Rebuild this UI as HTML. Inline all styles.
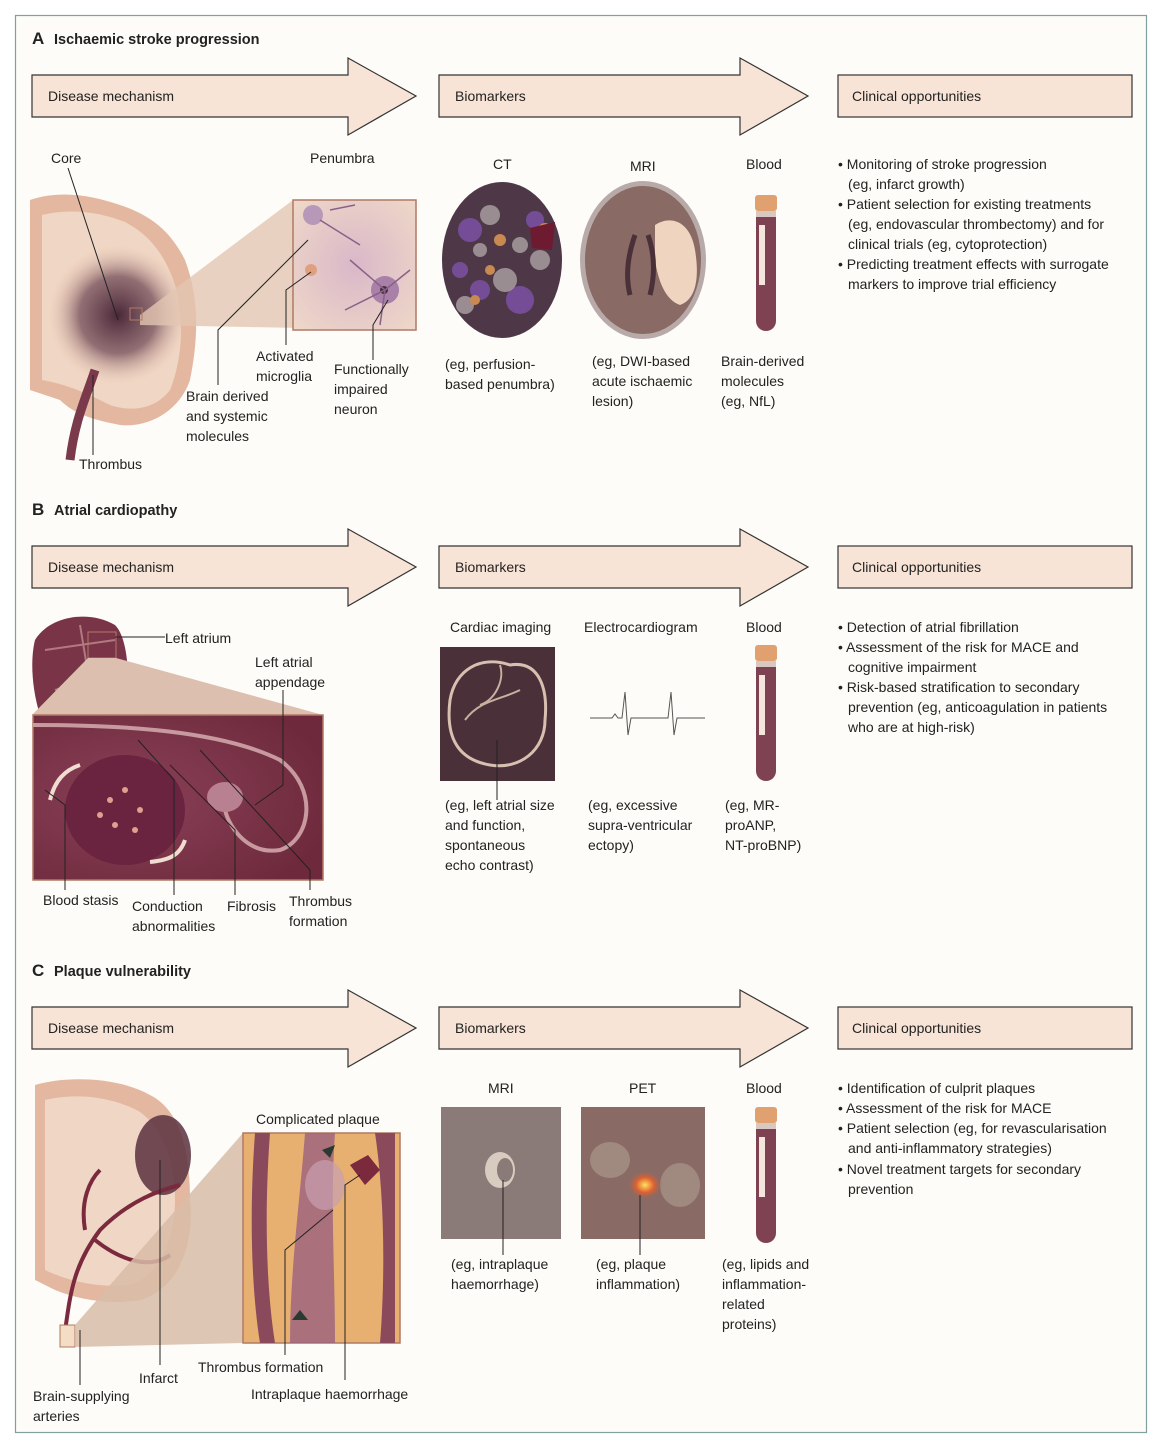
<!DOCTYPE html>
<html><head><meta charset="utf-8"><style>
html,body{margin:0;padding:0;background:#fff}
svg{display:block}
text{font-family:"Liberation Sans",sans-serif;font-size:14px;fill:#222}
.h{font-weight:bold;font-size:14.5px}
.L{font-size:17px;font-weight:bold}
</style></head><body>
<svg width="1164" height="1448" viewBox="0 0 1164 1448" xmlns="http://www.w3.org/2000/svg">
<defs>
<radialGradient id="core" cx="0.5" cy="0.5" r="0.5"><stop offset="0" stop-color="#4a2838"/><stop offset="0.55" stop-color="#7a5560" stop-opacity="0.8"/><stop offset="1" stop-color="#e8c4b0" stop-opacity="0"/></radialGradient>
<radialGradient id="pen" cx="0.5" cy="0.5" r="0.7"><stop offset="0" stop-color="#d9b8c8"/><stop offset="1" stop-color="#efd8c8"/></radialGradient>
<radialGradient id="heartg" cx="0.35" cy="0.5" r="0.7"><stop offset="0" stop-color="#8a4058"/><stop offset="1" stop-color="#6e2a3c"/></radialGradient>
<radialGradient id="pet" cx="0.5" cy="0.5" r="0.5"><stop offset="0" stop-color="#ffe060"/><stop offset="0.5" stop-color="#e06030"/><stop offset="1" stop-color="#8a6a64" stop-opacity="0"/></radialGradient>
<g id="arrows">
<path d="M32,75 H348 V58 L416,96 L348,135 V117 H32 Z" fill="#f8e4d6" stroke="#333" stroke-width="1.2"/>
<path d="M439,75 H740 V58 L808,96 L740,135 V117 H439 Z" fill="#f8e4d6" stroke="#333" stroke-width="1.2"/>
<rect x="838" y="75" width="294" height="42" fill="#f8e4d6" stroke="#333" stroke-width="1.2"/>
<text x="48" y="101">Disease mechanism</text>
<text x="455" y="101">Biomarkers</text>
<text x="852" y="101">Clinical opportunities</text>
</g>
<g id="tube">
<rect x="755" y="0" width="22" height="16" rx="3" fill="#e0a070"/>
<rect x="756" y="16" width="20" height="6" fill="#d8c8c0"/>
<path d="M756,22 H776 V126 a10,10 0 0 1 -20,0 Z" fill="#7e4252"/>
<rect x="759" y="30" width="6" height="60" fill="#f5e6dc"/>
</g>
</defs>
<rect x="15.5" y="15.5" width="1131" height="1417" fill="#fdfcf8" stroke="#7fa09c" stroke-width="1.2"/>

<!-- ===== A ===== -->
<text x="32" y="44" class="L">A</text><text x="54" y="44" class="h">Ischaemic stroke progression</text>
<use href="#arrows"/>
<text x="51" y="163">Core</text><text x="310" y="163">Penumbra</text>
<!-- brain -->
<path d="M30,200 C60,190 90,195 120,205 C150,215 170,230 185,260 C200,300 198,340 190,380 C180,410 150,428 120,425 C95,420 75,415 60,400 L30,390 Z" fill="#e4b8a0"/>
<path d="M42,215 C70,208 100,212 125,222 C150,235 165,255 175,285 C185,320 182,360 170,390 C155,410 130,412 110,405 C90,395 70,385 42,380 Z" fill="#f0d6c4"/>
<ellipse cx="118" cy="315" rx="70" ry="70" fill="url(#core)"/>
<path d="M95,370 C85,400 75,420 70,460" stroke="#7a3a4c" stroke-width="9" fill="none"/>
<polygon points="140,315 293,200 416,200 416,330 140,325" fill="#e2c6b2" opacity="0.8"/>
<rect x="293" y="200" width="123" height="130" fill="url(#pen)" stroke="#b07a66" stroke-width="1.5"/>
<circle cx="313" cy="215" r="10" fill="#b898b8"/><circle cx="385" cy="290" r="14" fill="#a880a8"/><circle cx="384" cy="290" r="4" fill="#4a3040"/>
<circle cx="311" cy="270" r="6" fill="#e0a080"/>
<path d="M320,220 L360,245 M330,210 L355,205 M385,290 L350,260 M385,290 L410,270 M385,290 L380,325 M385,290 L345,310" stroke="#8a6088" stroke-width="1.5" fill="none"/>
<rect x="130" y="308" width="12" height="12" fill="none" stroke="#b07a66"/>
<g stroke="#222" stroke-width="1" fill="none">
<path d="M68,168 L118,320"/><path d="M308,240 L218,330 V385"/><path d="M311,272 L286,290 V345"/><path d="M388,300 L373,325 V360"/><path d="M93,375 V455"/>
</g>
<text x="256" y="361">Activated</text><text x="256" y="381">microglia</text>
<text x="334" y="374">Functionally</text><text x="334" y="394">impaired</text><text x="334" y="414">neuron</text>
<text x="186" y="401">Brain derived</text><text x="186" y="421">and systemic</text><text x="186" y="441">molecules</text>
<text x="79" y="469">Thrombus</text>
<!-- CT / MRI -->
<text x="493" y="169">CT</text><text x="630" y="171">MRI</text><text x="746" y="169">Blood</text>
<ellipse cx="502" cy="260" rx="60" ry="78" fill="#4e3848"/>
<g fill="#7a50a0" opacity="0.9"><circle cx="470" cy="230" r="12"/><circle cx="520" cy="300" r="14"/><circle cx="480" cy="290" r="10"/><circle cx="535" cy="220" r="9"/><circle cx="460" cy="270" r="8"/></g>
<g fill="#a89ca0" opacity="0.85"><circle cx="490" cy="215" r="10"/><circle cx="505" cy="280" r="12"/><circle cx="540" cy="260" r="10"/><circle cx="465" cy="305" r="9"/><circle cx="520" cy="245" r="8"/><circle cx="480" cy="250" r="7"/></g>
<g fill="#c88a50"><circle cx="500" cy="240" r="6"/><circle cx="490" cy="270" r="5"/><circle cx="475" cy="300" r="5"/><circle cx="545" cy="230" r="7"/></g>
<path d="M530,228 L555,222 L552,250 L532,248 Z" fill="#6e1a30"/>
<ellipse cx="643" cy="260" rx="63" ry="79" fill="#b8aaa8"/>
<ellipse cx="643" cy="260" rx="58" ry="74" fill="#8a6a64"/>
<path d="M655,225 C670,215 690,220 695,250 C700,280 695,300 680,305 C665,300 658,280 655,260 Z" fill="#efd4c0"/>
<path d="M635,235 C628,255 625,275 630,295 M648,235 C655,255 655,275 650,295" stroke="#4a3038" stroke-width="5" fill="none"/>
<use href="#tube" transform="translate(0,195)"/>
<text x="445" y="369">(eg, perfusion-</text><text x="445" y="389">based penumbra)</text>
<text x="592" y="366">(eg, DWI-based</text><text x="592" y="386">acute ischaemic</text><text x="592" y="406">lesion)</text>
<text x="721" y="366">Brain-derived</text><text x="721" y="386">molecules</text><text x="721" y="406">(eg, NfL)</text>
<text x="838" y="169">• Monitoring of stroke progression</text><text x="848" y="189">(eg, infarct growth)</text>
<text x="838" y="209">• Patient selection for existing treatments</text><text x="848" y="229">(eg, endovascular thrombectomy) and for</text><text x="848" y="249">clinical trials (eg, cytoprotection)</text>
<text x="838" y="269">• Predicting treatment effects with surrogate</text><text x="848" y="289">markers to improve trial efficiency</text>

<!-- ===== B ===== -->
<text x="32" y="515" class="L">B</text><text x="54" y="515" class="h">Atrial cardiopathy</text>
<use href="#arrows" transform="translate(0,471)"/>
<path d="M35,640 C50,615 90,610 115,625 C130,640 130,690 125,715 H40 C32,690 30,660 35,640 Z" fill="#7a3448"/>
<path d="M45,650 L115,640 M55,690 L120,670 M80,625 L95,715" stroke="#b07a80" stroke-width="2" fill="none"/>
<rect x="88" y="632" width="28" height="26" fill="none" stroke="#b07a66"/>
<polygon points="88,658 116,658 323,715 32,715" fill="#dcbfae"/>
<rect x="33" y="715" width="290" height="165" fill="url(#heartg)" stroke="#b07a66" stroke-width="1.5"/>
<path d="M33,725 C120,725 220,730 280,760 C320,790 310,840 280,850 C250,855 230,830 225,810" stroke="#c89aa0" stroke-width="4" fill="none"/>
<ellipse cx="125" cy="810" rx="60" ry="55" fill="#6a2440"/>
<g fill="#e0a090"><circle cx="110" cy="800" r="3"/><circle cx="125" cy="790" r="3"/><circle cx="140" cy="810" r="3"/><circle cx="115" cy="825" r="3"/><circle cx="100" cy="815" r="3"/><circle cx="135" cy="830" r="3"/></g>
<ellipse cx="225" cy="797" rx="18" ry="15" fill="#b88090"/>
<path d="M50,800 C55,780 65,770 80,765 M185,840 C180,855 170,860 150,862" stroke="#f0dcd0" stroke-width="4" fill="none"/>
<g stroke="#222" stroke-width="1" fill="none">
<path d="M115,637 H165"/><path d="M283,690 V785 L255,805"/><path d="M45,790 L65,805 V890"/><path d="M138,740 L174,780 V895"/><path d="M170,765 L235,830 V895"/><path d="M200,750 L310,870 V890"/>
</g>
<text x="165" y="643">Left atrium</text>
<text x="255" y="667">Left atrial</text><text x="255" y="687">appendage</text>
<text x="43" y="905">Blood stasis</text>
<text x="132" y="911">Conduction</text><text x="132" y="931">abnormalities</text>
<text x="227" y="911">Fibrosis</text>
<text x="289" y="906">Thrombus</text><text x="289" y="926">formation</text>
<text x="450" y="632">Cardiac imaging</text><text x="584" y="632">Electrocardiogram</text><text x="746" y="632">Blood</text>
<rect x="440" y="647" width="115" height="134" fill="#4a3038"/>
<path d="M450,700 C455,670 480,655 510,665 C540,660 548,690 545,720 C545,750 520,770 490,765 C460,760 445,740 450,700 Z" fill="none" stroke="#d8c0b0" stroke-width="3"/>
<path d="M465,720 C480,700 500,700 520,690 M500,665 C505,680 495,700 480,705" stroke="#c8b0a0" stroke-width="2" fill="none"/>
<path d="M497,740 V800" stroke="#222" stroke-width="1"/>
<path d="M590,718 H612 L615,714 L618,718 H622 L625,692 L628,735 L631,718 H668 L671,692 L674,735 L677,718 H705" stroke="#555" stroke-width="1" fill="none"/>
<use href="#tube" transform="translate(0,645)"/>
<text x="445" y="810">(eg, left atrial size</text><text x="445" y="830">and function,</text><text x="445" y="850">spontaneous</text><text x="445" y="870">echo contrast)</text>
<text x="588" y="810">(eg, excessive</text><text x="588" y="830">supra-ventricular</text><text x="588" y="850">ectopy)</text>
<text x="725" y="810">(eg, MR-</text><text x="725" y="830">proANP,</text><text x="725" y="850">NT-proBNP)</text>
<text x="838" y="632">• Detection of atrial fibrillation</text>
<text x="838" y="652">• Assessment of the risk for MACE and</text><text x="848" y="672">cognitive impairment</text>
<text x="838" y="692">• Risk-based stratification to secondary</text><text x="848" y="712">prevention (eg, anticoagulation in patients</text><text x="848" y="732">who are at high-risk)</text>

<!-- ===== C ===== -->
<text x="32" y="976" class="L">C</text><text x="54" y="976" class="h">Plaque vulnerability</text>
<use href="#arrows" transform="translate(0,932)"/>
<path d="M35,1085 C70,1075 120,1078 150,1095 C180,1110 190,1150 190,1200 C195,1250 175,1290 140,1300 C110,1305 80,1300 55,1290 L35,1280 Z" fill="#e4b8a0"/>
<path d="M45,1100 C80,1092 115,1098 140,1112 C165,1130 175,1165 175,1200 C175,1240 160,1275 130,1285 C100,1288 70,1282 45,1270 Z" fill="#f0d6c4"/>
<ellipse cx="163" cy="1155" rx="28" ry="40" fill="#5a3040" opacity="0.85"/>
<path d="M63,1345 C70,1300 70,1270 100,1230 C130,1200 160,1190 180,1185 M95,1240 C120,1260 150,1270 170,1255 M85,1230 C80,1200 90,1180 100,1170" stroke="#7a2a3c" stroke-width="4" fill="none"/>
<rect x="60" y="1325" width="15" height="22" fill="#f5dcc4" stroke="#b07a66"/>
<polygon points="75,1325 243,1133 243,1343 75,1347" fill="#d8bca8" opacity="0.85"/>
<rect x="243" y="1133" width="157" height="210" fill="#e8b070" stroke="#b07a66" stroke-width="1.5"/>
<path d="M255,1133 C250,1200 250,1280 260,1343 H275 C265,1280 265,1200 270,1133 Z M375,1133 C385,1200 385,1280 380,1343 H395 V1133 Z" fill="#8a4a5c"/>
<path d="M305,1133 C300,1200 290,1270 290,1343 H335 C335,1270 330,1200 335,1133 Z" fill="#9a6080" opacity="0.8"/>
<ellipse cx="325" cy="1185" rx="20" ry="25" fill="#c8a0b0" opacity="0.7"/>
<path d="M350,1165 L368,1155 L380,1170 L365,1185 Z" fill="#7a2a3c"/>
<polygon points="300,1310 292,1320 308,1320" fill="#2a3a32"/>
<polygon points="322,1150 335,1145 330,1158" fill="#2a3a32"/>
<g stroke="#222" stroke-width="1" fill="none">
<path d="M80,1330 V1385"/><path d="M160,1160 V1365"/><path d="M333,1210 L285,1250 V1355"/><path d="M360,1175 L345,1185 V1380"/>
</g>
<text x="256" y="1124">Complicated plaque</text>
<text x="198" y="1372">Thrombus formation</text>
<text x="139" y="1383">Infarct</text>
<text x="251" y="1399">Intraplaque haemorrhage</text>
<text x="33" y="1401">Brain-supplying</text><text x="33" y="1421">arteries</text>
<text x="488" y="1093">MRI</text><text x="629" y="1093">PET</text><text x="746" y="1093">Blood</text>
<rect x="441" y="1107" width="120" height="132" fill="#8a7a78"/>
<ellipse cx="500" cy="1170" rx="15" ry="18" fill="#d8ccc0"/><ellipse cx="505" cy="1170" rx="8" ry="12" fill="#8a7a78"/>
<path d="M503,1180 V1255" stroke="#222" stroke-width="1"/>
<rect x="581" y="1107" width="124" height="132" fill="#8a6a64"/>
<ellipse cx="610" cy="1160" rx="20" ry="18" fill="#a08a80"/><ellipse cx="680" cy="1185" rx="20" ry="22" fill="#a08a80"/>
<ellipse cx="645" cy="1185" rx="18" ry="15" fill="url(#pet)"/>
<path d="M640,1195 V1255" stroke="#222" stroke-width="1"/>
<use href="#tube" transform="translate(0,1107)"/>
<text x="451" y="1269">(eg, intraplaque</text><text x="451" y="1289">haemorrhage)</text>
<text x="596" y="1269">(eg, plaque</text><text x="596" y="1289">inflammation)</text>
<text x="722" y="1269">(eg, lipids and</text><text x="722" y="1289">inflammation-</text><text x="722" y="1309">related</text><text x="722" y="1329">proteins)</text>
<text x="838" y="1093">• Identification of culprit plaques</text>
<text x="838" y="1113">• Assessment of the risk for MACE</text>
<text x="838" y="1133">• Patient selection (eg, for revascularisation</text><text x="848" y="1153">and anti-inflammatory strategies)</text>
<text x="838" y="1174">• Novel treatment targets for secondary</text><text x="848" y="1194">prevention</text>
</svg>
</body></html>
